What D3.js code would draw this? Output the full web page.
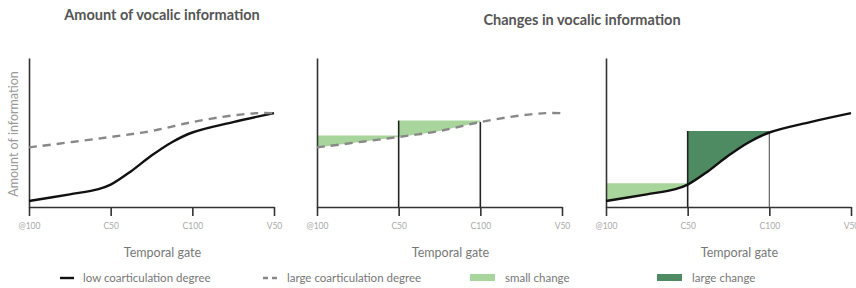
<!DOCTYPE html>
<html>
<head>
<meta charset="utf-8">
<script src="https://cdn.jsdelivr.net/npm/d3@7"></script>
<style>
  body { margin: 0; background: #fff; }
  svg { font-family: Lato, "Open Sans", sans-serif; }
</style>
</head>
<body>
<svg width="856" height="288"></svg>
<script>
// gate labels on the x axis
var gates = ["@100", "C50", "C100", "V50"];

// low coarticulation degree (solid), x in gate units
var lowX = [0, 0.5, 0.85, 1, 1.25, 1.5, 1.75, 2, 2.5, 3];
var lowY = [4, 8.5, 12, 15, 24, 34.5, 43.5, 50, 57, 63];

// large coarticulation degree (dashed)
var highX = [0, 1, 1.5, 2, 2.5, 2.8, 3];
var highY = [40, 47, 51, 57, 61.5, 63, 63];

var legendLabels = ["low coarticulation degree", "large coarticulation degree", "small change", "large change"];

var lightGreen = "#a8d59b",
    darkGreen = "#4e8a62";

var svg = d3.select("svg");

var low = lowX.map(function(x, i) { return {x: x, y: lowY[i]}; });
var high = highX.map(function(x, i) { return {x: x, y: highY[i]}; });

function valueAt(d, gx) {
  var p = d.find(function(e) { return e.x === gx; });
  return p.y;
}

var y = d3.scaleLinear().domain([0, 100]).range([207, 58]);
var curve = d3.curveCatmullRom.alpha(0.5);

var panels = [
  {x0: 29,  x1: 274, series: [low, high], fill: null},
  {x0: 317, x1: 562, series: [high], fill: high, dark: false},
  {x0: 606, x1: 851, series: [low], fill: low, dark: true}
];

panels.forEach(function(p, pi) {
  var g = svg.append("g");
  var x = d3.scaleLinear().domain([0, 3]).range([p.x0, p.x1]);

  var line = d3.line()
    .x(function(d) { return x(d.x); })
    .y(function(d) { return y(d.y); })
    .curve(curve);

  if (p.fill) {
    var d = p.fill;
    [[0, 1, lightGreen], [1, 2, p.dark ? darkGreen : lightGreen]].forEach(function(iv, k) {
      var top = valueAt(d, iv[1]);
      var id = "clip" + pi + "_" + k;
      g.append("clipPath").attr("id", id)
        .append("rect")
        .attr("x", x(iv[0])).attr("y", 0)
        .attr("width", x(iv[1]) - x(iv[0])).attr("height", 288);
      var area = d3.area()
        .x(function(e) { return x(e.x); })
        .y0(function(e) { return y(e.y); })
        .y1(y(top) - 1.5)
        .curve(curve);
      g.append("path")
        .datum(d)
        .attr("clip-path", "url(#" + id + ")")
        .attr("fill", iv[2])
        .attr("d", area);
    });
    // vertical markers
    var topC100 = valueAt(d, 2);
    g.append("line")
      .attr("x1", x(1)).attr("x2", x(1))
      .attr("y1", y(0)).attr("y2", y(topC100) - 1.5)
      .attr("stroke", "#222").attr("stroke-width", 1.6);
    g.append("line")
      .attr("x1", x(2)).attr("x2", x(2))
      .attr("y1", y(0)).attr("y2", y(topC100))
      .attr("stroke", p.dark ? "#666" : "#222").attr("stroke-width", p.dark ? 1.2 : 1.6);
  }

  // axes
  g.append("g")
    .attr("transform", "translate(0," + y(0) + ")")
    .call(d3.axisBottom(x).tickValues([0, 1, 2, 3]).tickSize(9).tickSizeOuter(0)
      .tickFormat(function(v) { return gates[v]; }))
    .call(function(a) {
      a.select(".domain").attr("stroke", "#333").attr("stroke-width", 1.6);
      a.selectAll(".tick line").attr("stroke", "#333").attr("stroke-width", 1.6);
      a.selectAll(".tick text").attr("fill", "#aaa").attr("font-size", 8.5)
        .attr("font-family", "Lato, sans-serif").attr("dy", "1.2em");
    });

  g.append("g")
    .attr("transform", "translate(" + p.x0 + ",0)")
    .call(d3.axisLeft(y).tickValues([]).tickSizeOuter(0))
    .call(function(a) {
      a.select(".domain").attr("stroke", "#333").attr("stroke-width", 1.6);
    });

  p.series.forEach(function(s) {
    var dashed = s === high;
    g.append("path")
      .datum(s)
      .attr("fill", "none")
      .attr("stroke", dashed ? "#888" : "#111")
      .attr("stroke-width", 2.4)
      .attr("stroke-dasharray", dashed ? "8,6" : null)
      .attr("stroke-linecap", "butt")
      .attr("d", line);
  });

  g.append("text")
    .attr("x", (p.x0 + p.x1) / 2 + 11)
    .attr("y", 257)
    .attr("text-anchor", "middle")
    .attr("fill", "#777")
    .attr("font-size", 12.5)
    .text("Temporal gate");
});

// titles
svg.append("text")
  .attr("x", 162).attr("y", 20)
  .attr("text-anchor", "middle")
  .attr("font-weight", "bold").attr("font-size", 14.5).attr("fill", "#555")
  .text("Amount of vocalic information");

svg.append("text")
  .attr("x", 582).attr("y", 25)
  .attr("text-anchor", "middle")
  .attr("font-weight", "bold").attr("font-size", 14.5).attr("fill", "#555")
  .text("Changes in vocalic information");

svg.append("text")
  .attr("transform", "translate(18,134) rotate(-90)")
  .attr("text-anchor", "middle")
  .attr("fill", "#999").attr("font-size", 12.5)
  .text("Amount of information");

// legend
var lg = svg.append("g");
lg.append("line").attr("x1", 60).attr("x2", 74).attr("y1", 278).attr("y2", 278)
  .attr("stroke", "#111").attr("stroke-width", 2.4);
lg.append("line").attr("x1", 263).attr("x2", 279).attr("y1", 278).attr("y2", 278)
  .attr("stroke", "#888").attr("stroke-width", 2.4).attr("stroke-dasharray", "5,4");
lg.append("rect").attr("x", 470).attr("y", 274).attr("width", 25).attr("height", 7).attr("fill", lightGreen);
lg.append("rect").attr("x", 657).attr("y", 274).attr("width", 25).attr("height", 7).attr("fill", darkGreen);
[[83, 0], [287, 1], [505, 2], [692, 3]].forEach(function(e) {
  lg.append("text").attr("x", e[0]).attr("y", 282)
    .attr("fill", "#777").attr("font-size", 11.5)
    .text(legendLabels[e[1]]);
});
</script>
</body>
</html>
